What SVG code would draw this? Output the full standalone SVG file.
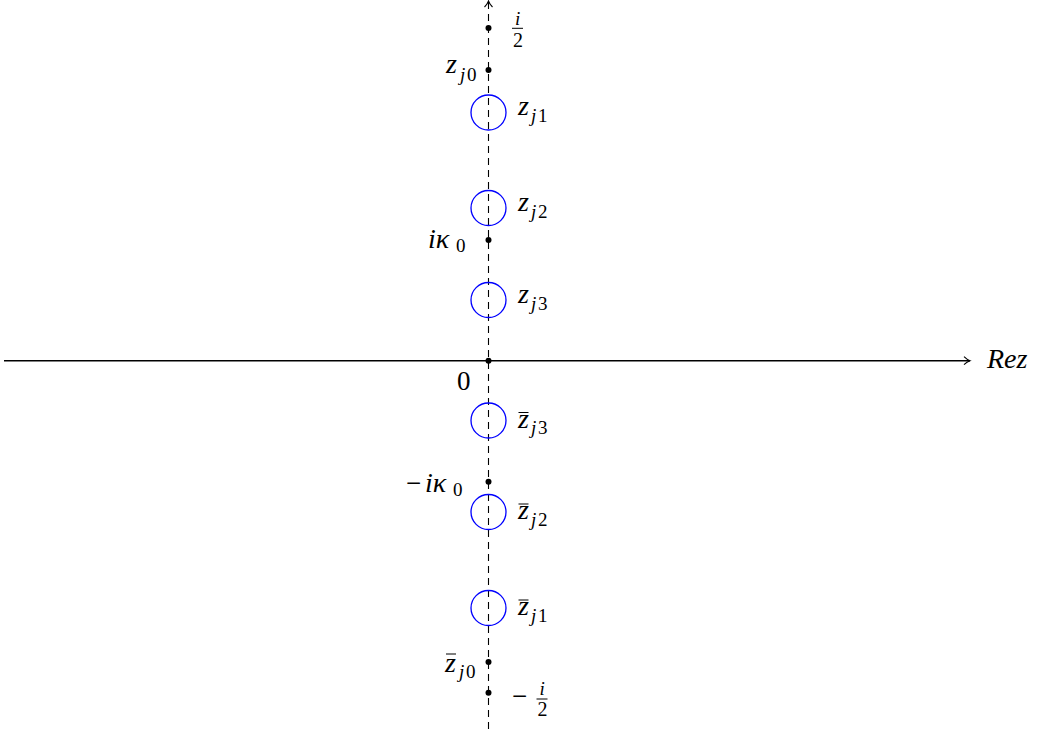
<svg xmlns="http://www.w3.org/2000/svg" width="1037" height="729" viewBox="0 0 1037 729">
<defs>
<marker id="ah" markerWidth="10" markerHeight="10" refX="7" refY="5" orient="auto" markerUnits="userSpaceOnUse">
<path d="M1,1 Q4,4 7,5 Q4,6 1,9" stroke="#000" stroke-width="1.1" fill="none"/>
</marker>
</defs>
<g id="connectors">
<line x1="488.5" y1="729" x2="488.5" y2="1" stroke="#000" stroke-width="1.1" stroke-dasharray="7,5" marker-end="url(#ah)"/>
<line x1="4" y1="360.7" x2="970" y2="360.7" stroke="#000" stroke-width="1.6" marker-end="url(#ah)"/>
</g>
<g id="n_i2"><circle cx="488.5" cy="28" r="3" fill="#000"/>
<text x="515" y="25" font-family="Liberation Serif" style="font-family:'Liberation Serif'" font-size="19" font-style="italic">i</text>
<line x1="512" y1="28.3" x2="523" y2="28.3" stroke="#000" stroke-width="1"/>
<text x="513" y="47" font-family="Liberation Serif" style="font-family:'Liberation Serif'" font-size="20">2</text></g>
<g id="n_zj0"><circle cx="488.5" cy="70" r="3" fill="#000"/>
<text x="446" y="73" font-family="Liberation Serif" style="font-family:'Liberation Serif'" font-size="28" font-style="italic">z<tspan x="460" y="81" font-size="19">j</tspan><tspan x="467" y="81" font-size="19" font-style="normal">0</tspan></text></g>
<g id="n_zj1"><circle cx="488.5" cy="112.5" r="17.5" fill="none" stroke="#0000ff" stroke-width="1.3"/>
<text x="518" y="115" font-family="Liberation Serif" style="font-family:'Liberation Serif'" font-size="28" font-style="italic">z<tspan x="531" y="122" font-size="19">j</tspan><tspan x="538" y="122" font-size="19" font-style="normal">1</tspan></text></g>
<g id="n_zj2"><circle cx="488.5" cy="208" r="17.5" fill="none" stroke="#0000ff" stroke-width="1.3"/>
<text x="518" y="211" font-family="Liberation Serif" style="font-family:'Liberation Serif'" font-size="28" font-style="italic">z<tspan x="531" y="218" font-size="19">j</tspan><tspan x="538" y="218" font-size="19" font-style="normal">2</tspan></text></g>
<g id="n_ik0"><circle cx="488.5" cy="240" r="3" fill="#000"/>
<text x="428" y="248" font-family="Liberation Serif" style="font-family:'Liberation Serif'" font-size="28" font-style="italic">iκ<tspan x="456" y="252" font-size="19" font-style="normal">0</tspan></text></g>
<g id="n_zj3"><circle cx="488.5" cy="300" r="17.5" fill="none" stroke="#0000ff" stroke-width="1.3"/>
<text x="518" y="303" font-family="Liberation Serif" style="font-family:'Liberation Serif'" font-size="28" font-style="italic">z<tspan x="531" y="310" font-size="19">j</tspan><tspan x="538" y="310" font-size="19" font-style="normal">3</tspan></text></g>
<g id="n_0"><circle cx="488.5" cy="360.7" r="3" fill="#000"/>
<text x="457" y="390" font-family="Liberation Serif" style="font-family:'Liberation Serif'" font-size="27">0</text></g>
<g id="n_bzj3"><circle cx="488.5" cy="420.5" r="17.5" fill="none" stroke="#0000ff" stroke-width="1.3"/>
<line x1="518.5" y1="412.5" x2="528.5" y2="412.5" stroke="#000" stroke-width="1"/>
<text x="518" y="427.5" font-family="Liberation Serif" style="font-family:'Liberation Serif'" font-size="28" font-style="italic">z<tspan x="531" y="434" font-size="19">j</tspan><tspan x="538" y="434" font-size="19" font-style="normal">3</tspan></text></g>
<g id="n_mik0"><circle cx="488.5" cy="481.7" r="3" fill="#000"/>
<text x="406" y="492" font-family="Liberation Serif" style="font-family:'Liberation Serif'" font-size="27">−<tspan x="425" y="492" font-size="28" font-style="italic">iκ</tspan><tspan x="453" y="496" font-size="19">0</tspan></text></g>
<g id="n_bzj2"><circle cx="488.5" cy="512" r="17.5" fill="none" stroke="#0000ff" stroke-width="1.3"/>
<line x1="518.5" y1="504" x2="528.5" y2="504" stroke="#000" stroke-width="1"/>
<text x="518" y="519" font-family="Liberation Serif" style="font-family:'Liberation Serif'" font-size="28" font-style="italic">z<tspan x="531" y="525.5" font-size="19">j</tspan><tspan x="538" y="525.5" font-size="19" font-style="normal">2</tspan></text></g>
<g id="n_bzj1"><circle cx="488.5" cy="608" r="17.5" fill="none" stroke="#0000ff" stroke-width="1.3"/>
<line x1="518.5" y1="600" x2="528.5" y2="600" stroke="#000" stroke-width="1"/>
<text x="518" y="615" font-family="Liberation Serif" style="font-family:'Liberation Serif'" font-size="28" font-style="italic">z<tspan x="531" y="621.5" font-size="19">j</tspan><tspan x="538" y="621.5" font-size="19" font-style="normal">1</tspan></text></g>
<g id="n_bzj0"><circle cx="488.5" cy="662" r="3" fill="#000"/>
<line x1="446" y1="654" x2="456" y2="654" stroke="#000" stroke-width="1"/>
<text x="445" y="671.5" font-family="Liberation Serif" style="font-family:'Liberation Serif'" font-size="28" font-style="italic">z<tspan x="459" y="678" font-size="19">j</tspan><tspan x="466" y="678" font-size="19" font-style="normal">0</tspan></text></g>
<g id="n_mi2"><circle cx="488.5" cy="692.7" r="3" fill="#000"/>
<text x="512" y="705" font-family="Liberation Serif" style="font-family:'Liberation Serif'" font-size="27">−</text>
<text x="539.5" y="694.5" font-family="Liberation Serif" style="font-family:'Liberation Serif'" font-size="19" font-style="italic">i</text>
<line x1="536.5" y1="699" x2="547.5" y2="699" stroke="#000" stroke-width="1"/>
<text x="537.5" y="716" font-family="Liberation Serif" style="font-family:'Liberation Serif'" font-size="20">2</text></g>
<g id="n_rez"><text x="987" y="368" font-family="Liberation Serif" style="font-family:'Liberation Serif'" font-size="28" font-style="italic">Rez</text></g>
</svg>
